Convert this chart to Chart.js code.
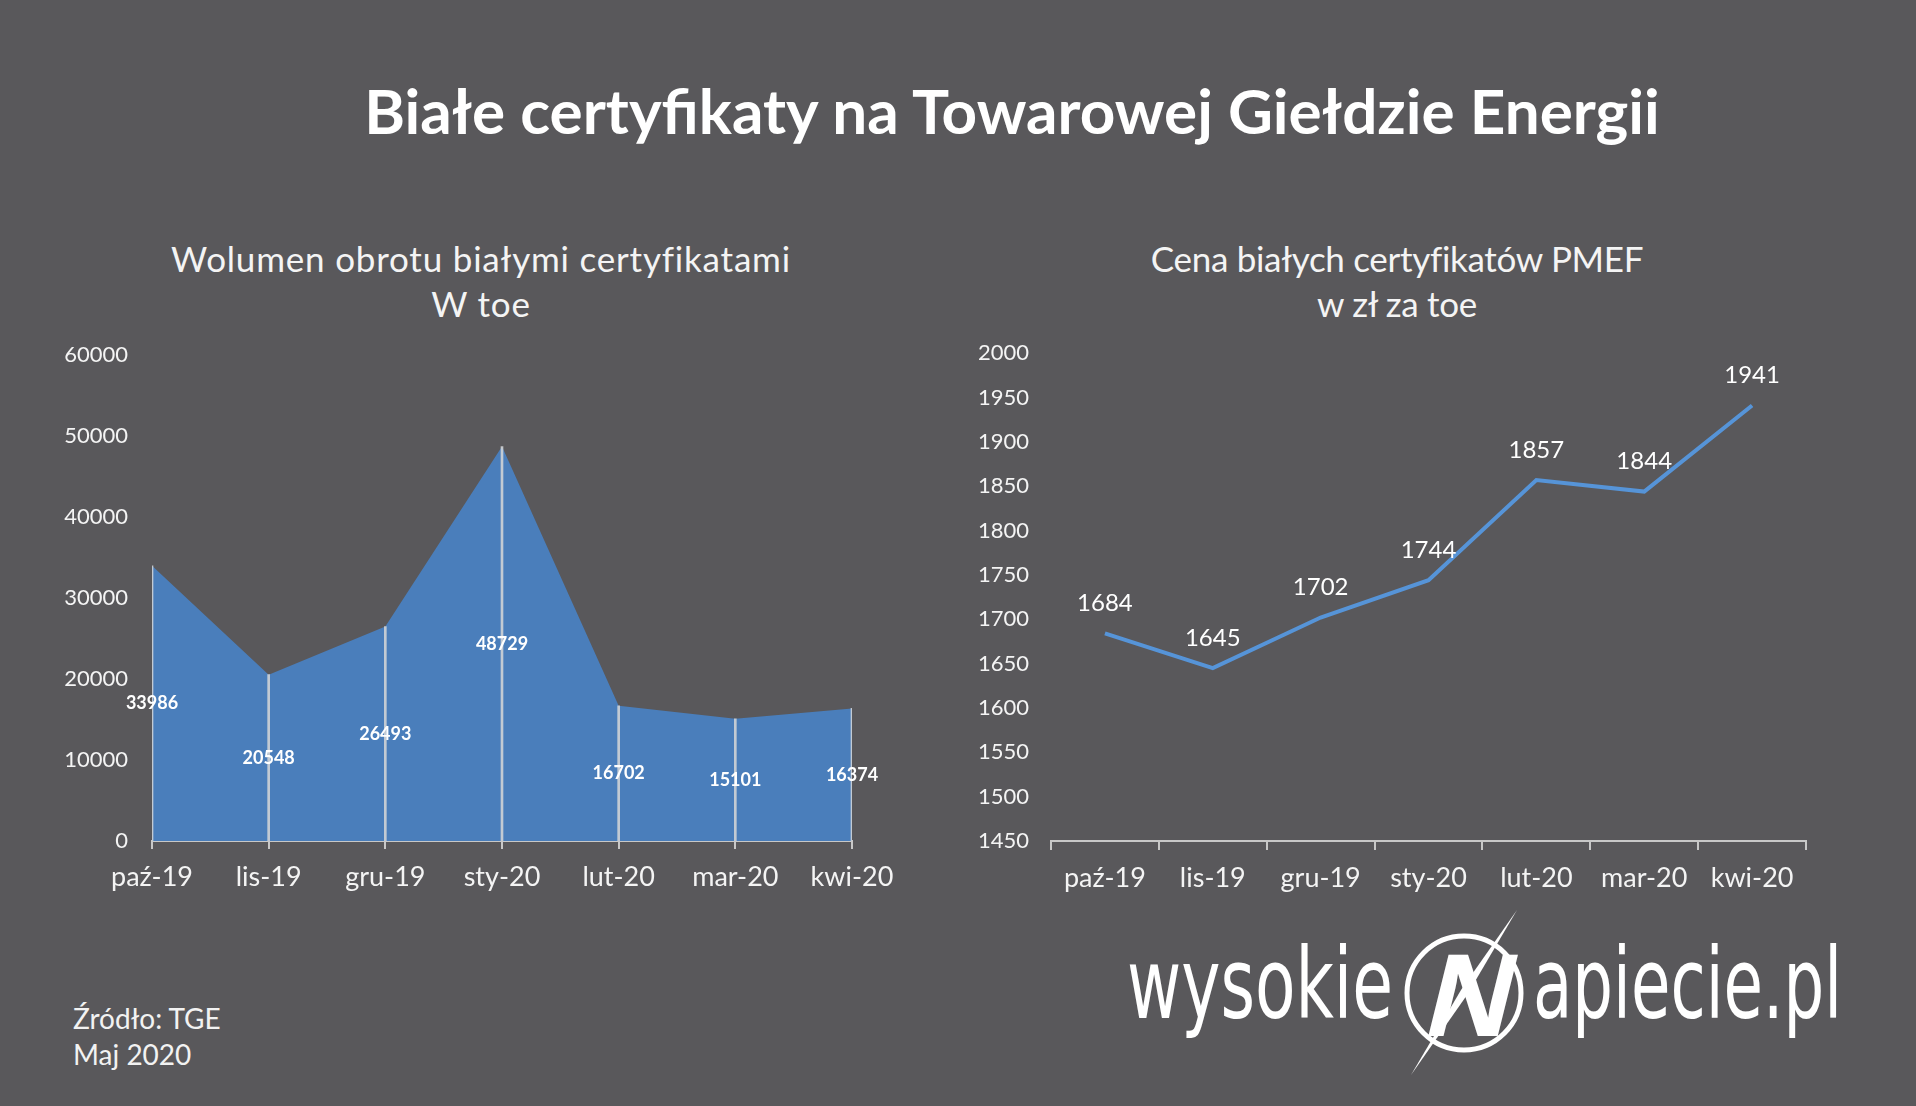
<!DOCTYPE html>
<html lang="pl">
<head>
<meta charset="utf-8">
<title>Białe certyfikaty na Towarowej Giełdzie Energii</title>
<script src="https://cdn.jsdelivr.net/npm/chart.js@4.4.0/dist/chart.umd.min.js"></script>
<style>
  html, body { margin: 0; padding: 0; }
  body {
    width: 1916px; height: 1106px; position: relative; overflow: hidden;
    background: #59585b; color: #fff; font-family: Lato, "Open Sans", sans-serif;
  }
  #title {
    position: absolute; left: 0; top: 71px; width: 2024px; text-align: center;
    font-weight: 700; font-size: 62px; line-height: 78px;
  }
  .subtitle {
    position: absolute; top: 236px; width: 800px; text-align: center;
    font-size: 35px; line-height: 45px; color: #f4f4f4;
  }
  #sub1 { left: 81px; letter-spacing: 0.8px; }
  #sub2 { left: 997px; letter-spacing: -0.3px; }
  .box { position: absolute; top: 318px; height: 593px; }
  #box1 { left: 0; width: 902px; }
  #box2 { left: 930px; width: 896px; }
  #source {
    position: absolute; left: 73px; top: 1000px;
    font-size: 28px; line-height: 36px; color: #f2f2f2;
  }
  #logo { position: absolute; left: 1100px; top: 900px; }
</style>
</head>
<body>
<div id="title">Białe certyfikaty na Towarowej Giełdzie Energii</div>
<div class="subtitle" id="sub1">Wolumen obrotu białymi certyfikatami<br>W toe</div>
<div class="subtitle" id="sub2">Cena białych certyfikatów PMEF<br>w zł za toe</div>
<div class="box" id="box1"><canvas id="volumeChart"></canvas></div>
<div class="box" id="box2"><canvas id="priceChart"></canvas></div>
<div id="source">Źródło: TGE<br>Maj 2020</div>

<svg id="logo" width="780" height="200" viewBox="0 0 780 200">
  <text x="27" y="118" font-family="'Liberation Sans Narrow', 'DejaVu Sans Condensed', sans-serif"
        font-size="98" fill="#fff" textLength="266" lengthAdjust="spacingAndGlyphs">wysokie</text>
  <circle cx="364" cy="93" r="57" fill="none" stroke="#fff" stroke-width="5"/>
  <polygon points="417,10 367,95 311,175 361,90" fill="#fff"/>
  <text x="0" y="0" transform="translate(363,136) skewX(-14)" text-anchor="middle"
        font-family="'Liberation Sans Narrow', 'Liberation Sans', sans-serif"
        font-weight="700" font-size="118" fill="#fff">N</text>
  <text x="433" y="118" font-family="'Liberation Sans Narrow', 'DejaVu Sans Condensed', sans-serif"
        font-size="98" fill="#fff" textLength="309" lengthAdjust="spacingAndGlyphs">apiecie.pl</text>
</svg>

<script>
const months = ['paź-19', 'lis-19', 'gru-19', 'sty-20', 'lut-20', 'mar-20', 'kwi-20'];
const volume = [33986, 20548, 26493, 48729, 16702, 15101, 16374];
const price = [1684, 1645, 1702, 1744, 1857, 1844, 1941];

const volumeMin = 0, volumeMax = 60000, volumeStep = 10000;
const priceMin = 1450, priceMax = 2000, priceStep = 50;

const tickColor = '#f4f4f4';
const axisColor = '#c8c8c8';

Chart.defaults.font.family = 'Lato, "Open Sans", sans-serif';
Chart.defaults.color = tickColor;

const plain = (value) => String(value);

// excel-style value labels, centred inside the area
const volumeLabels = {
    id: 'volumeLabels',
    afterDatasetsDraw(chart) {
        const ctx = chart.ctx;
        const meta = chart.getDatasetMeta(1);
        const y = chart.scales.y;
        ctx.save();
        ctx.font = 'bold 18px Lato';
        ctx.fillStyle = '#ffffff';
        ctx.textAlign = 'center';
        ctx.textBaseline = 'middle';
        meta.data.forEach((pt, i) => {
            ctx.fillText(volume[i], pt.x, y.getPixelForValue(volume[i] / 2));
        });
        ctx.restore();
    }
};

// labels above the price line
const priceLabels = {
    id: 'priceLabels',
    afterDatasetsDraw(chart) {
        const ctx = chart.ctx;
        const meta = chart.getDatasetMeta(0);
        ctx.save();
        ctx.font = '24px Lato';
        ctx.fillStyle = '#ffffff';
        ctx.textAlign = 'center';
        ctx.textBaseline = 'middle';
        meta.data.forEach((pt, i) => {
            ctx.fillText(price[i], pt.x, pt.y - 30);
        });
        ctx.restore();
    }
};

const noPad = (scale) => { scale.paddingLeft = 0; scale.paddingRight = 0; };

new Chart(document.getElementById('volumeChart'), {
    type: 'line',
    data: {
        labels: months,
        datasets: [
            {
                // drop lines
                type: 'bar',
                data: volume,
                backgroundColor: 'rgba(215,215,215,0.85)',
                barThickness: 2,
                order: 0
            },
            {
                data: volume,
                fill: 'origin',
                backgroundColor: '#4a7ebb',
                borderWidth: 0,
                pointRadius: 0,
                tension: 0,
                order: 1
            }
        ]
    },
    options: {
        responsive: true,
        maintainAspectRatio: false,
        animation: false,
        layout: { padding: { top: 25, right: 50, bottom: 0, left: 0 } },
        plugins: { legend: { display: false }, tooltip: { enabled: false } },
        scales: {
            x: {
                offset: false,
                grid: { offset: false, drawOnChartArea: false, drawTicks: true, tickLength: 8, color: axisColor, lineWidth: 2 },
                border: { display: true, color: axisColor, width: 2 },
                ticks: { color: tickColor, font: { size: 27 }, padding: 12, maxRotation: 0 },
                afterFit: (scale) => { noPad(scale); scale.height = 70; }
            },
            y: {
                min: volumeMin,
                max: volumeMax,
                ticks: { stepSize: volumeStep, color: tickColor, font: { size: 22 }, padding: 24, callback: plain },
                grid: { display: false, drawTicks: false },
                border: { display: false },
                afterFit: (scale) => { scale.width = 152; }
            }
        }
    },
    plugins: [volumeLabels]
});

new Chart(document.getElementById('priceChart'), {
    type: 'line',
    data: {
        labels: months,
        datasets: [{
            data: price,
            borderColor: '#5694d8',
            borderWidth: 4,
            pointRadius: 0,
            tension: 0,
            fill: false
        }]
    },
    options: {
        responsive: true,
        maintainAspectRatio: false,
        animation: false,
        layout: { padding: { top: 25, right: 20, bottom: 0, left: 0 } },
        plugins: { legend: { display: false }, tooltip: { enabled: false } },
        scales: {
            x: {
                offset: true,
                grid: { offset: true, drawOnChartArea: false, drawTicks: true, tickLength: 9, color: axisColor, lineWidth: 2 },
                border: { display: true, color: axisColor, width: 2 },
                ticks: { color: tickColor, font: { size: 27 }, padding: 12, maxRotation: 0 },
                afterFit: (scale) => { noPad(scale); scale.height = 70; }
            },
            y: {
                min: priceMin,
                max: priceMax,
                ticks: { stepSize: priceStep, color: tickColor, font: { size: 22 }, padding: 22, callback: plain },
                grid: { display: false, drawTicks: false },
                border: { display: false },
                afterFit: (scale) => { scale.width = 121; }
            }
        }
    },
    plugins: [priceLabels]
});
</script>
</body>
</html>
